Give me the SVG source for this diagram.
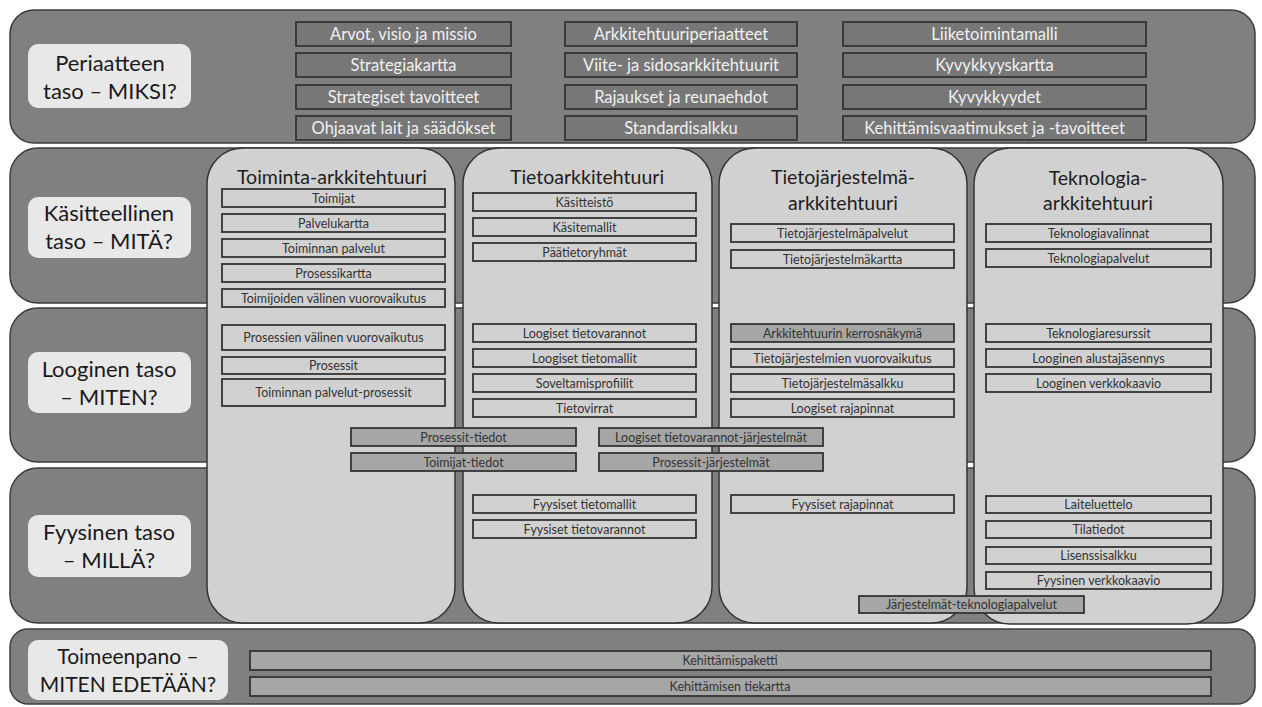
<svg xmlns="http://www.w3.org/2000/svg" width="1262" height="707" viewBox="0 0 1262 707">
  <style>
    .band { fill: #808080; stroke: #3c3c3c; stroke-width: 1.5; }
    .lvl { fill: #e8e8e8; }
    .lvlt { font-family: Lato, "Open Sans", sans-serif; font-size: 22px; fill: #1a1a1a; text-anchor: middle; }
    .pbox { fill: #777777; stroke: #333333; stroke-width: 1.8; }
    .pt { font-family: Lato, "Open Sans", sans-serif; font-size: 16.5px; fill: #f0f0f0; text-anchor: middle; }
    .col { fill: #d1d1d1; stroke: #333333; stroke-width: 1.5; }
    .colt { font-family: Lato, "Open Sans", sans-serif; font-size: 19.5px; fill: #1e1e1e; text-anchor: middle; }
    .cbox { fill: #d1d1d1; stroke: #333333; stroke-width: 1.8; }
    .dbox { fill: #a6a6a6; stroke: #333333; stroke-width: 1.8; }
    .ct { font-family: Lato, "Open Sans", sans-serif; font-size: 12.5px; fill: #333333; text-anchor: middle; }
  </style>

  <!-- horizontal levels -->
  <g id="bands">
    <rect class="band" x="10" y="10" width="1245" height="133" rx="24"/>
    <rect class="band" x="10" y="148" width="1245" height="155" rx="28"/>
    <rect class="band" x="10" y="308" width="1245" height="154" rx="28"/>
    <rect class="band" x="10" y="468" width="1245" height="155" rx="28"/>
    <rect class="band" x="10" y="629" width="1245" height="75" rx="18"/>
  </g>

  <!-- level labels -->
  <g id="level-miksi">
    <rect class="lvl" x="28" y="44" width="163" height="64" rx="10"/>
    <text class="lvlt" x="110" y="71">Periaatteen</text>
    <text class="lvlt" x="110" y="99">taso – MIKSI?</text>
  </g>
  <g id="level-mita">
    <rect class="lvl" x="28" y="197" width="163" height="61" rx="10"/>
    <text class="lvlt" x="109" y="221">Käsitteellinen</text>
    <text class="lvlt" x="109" y="249">taso – MITÄ?</text>
  </g>
  <g id="level-miten">
    <rect class="lvl" x="28" y="352" width="163" height="61" rx="10"/>
    <text class="lvlt" x="109" y="377">Looginen taso</text>
    <text class="lvlt" x="109" y="405">– MITEN?</text>
  </g>
  <g id="level-milla">
    <rect class="lvl" x="28" y="515" width="163" height="62" rx="10"/>
    <text class="lvlt" x="109" y="540">Fyysinen taso</text>
    <text class="lvlt" x="109" y="568">– MILLÄ?</text>
  </g>
  <g id="level-toimeenpano">
    <rect class="lvl" x="28" y="640" width="200" height="60" rx="10"/>
    <text class="lvlt" x="128" y="664" style="font-size:21px">Toimeenpano –</text>
    <text class="lvlt" x="128" y="692" style="font-size:21px">MITEN EDETÄÄN?</text>
  </g>

  <!-- principle level items -->
  <g id="principles">
    <rect class="pbox" x="296" y="22" width="215" height="24"/>
    <text class="pt" x="403.5" y="40">Arvot, visio ja missio</text>
    <rect class="pbox" x="296" y="53" width="215" height="24"/>
    <text class="pt" x="403.5" y="71">Strategiakartta</text>
    <rect class="pbox" x="296" y="85" width="215" height="24"/>
    <text class="pt" x="403.5" y="103">Strategiset tavoitteet</text>
    <rect class="pbox" x="296" y="116" width="215" height="24"/>
    <text class="pt" x="403.5" y="134">Ohjaavat lait ja säädökset</text>

    <rect class="pbox" x="565" y="22" width="232" height="24"/>
    <text class="pt" x="681" y="40">Arkkitehtuuriperiaatteet</text>
    <rect class="pbox" x="565" y="53" width="232" height="24"/>
    <text class="pt" x="681" y="71">Viite- ja sidosarkkitehtuurit</text>
    <rect class="pbox" x="565" y="85" width="232" height="24"/>
    <text class="pt" x="681" y="103">Rajaukset ja reunaehdot</text>
    <rect class="pbox" x="565" y="116" width="232" height="24"/>
    <text class="pt" x="681" y="134">Standardisalkku</text>

    <rect class="pbox" x="843" y="22" width="303" height="24"/>
    <text class="pt" x="994.5" y="40">Liiketoimintamalli</text>
    <rect class="pbox" x="843" y="53" width="303" height="24"/>
    <text class="pt" x="994.5" y="71">Kyvykkyyskartta</text>
    <rect class="pbox" x="843" y="85" width="303" height="24"/>
    <text class="pt" x="994.5" y="103">Kyvykkyydet</text>
    <rect class="pbox" x="843" y="116" width="303" height="24"/>
    <text class="pt" x="994.5" y="134">Kehittämisvaatimukset  ja -tavoitteet</text>
  </g>

  <!-- architecture columns -->
  <g id="toiminta-arkkitehtuuri">
    <rect class="col" x="207" y="148" width="248" height="475" rx="36"/>
    <text class="colt" x="332" y="184">Toiminta-arkkitehtuuri</text>
    <rect class="cbox" x="222" y="189" width="223" height="18"/><text class="ct" x="333.5" y="202.5">Toimijat</text>
    <rect class="cbox" x="222" y="214" width="223" height="18"/><text class="ct" x="333.5" y="227.5">Palvelukartta</text>
    <rect class="cbox" x="222" y="239" width="223" height="18"/><text class="ct" x="333.5" y="252.5">Toiminnan palvelut</text>
    <rect class="cbox" x="222" y="264" width="223" height="18"/><text class="ct" x="333.5" y="277.5">Prosessikartta</text>
    <rect class="cbox" x="222" y="289" width="223" height="18"/><text class="ct" x="333.5" y="302.5">Toimijoiden välinen vuorovaikutus</text>
    <rect class="cbox" x="222" y="325" width="223" height="25"/><text class="ct" x="333.5" y="342">Prosessien välinen vuorovaikutus</text>
    <rect class="cbox" x="222" y="357" width="223" height="17"/><text class="ct" x="333.5" y="370">Prosessit</text>
    <rect class="cbox" x="222" y="379" width="223" height="27"/><text class="ct" x="333.5" y="397">Toiminnan palvelut-prosessit</text>
  </g>

  <g id="tietoarkkitehtuuri">
    <rect class="col" x="463" y="148" width="249" height="475" rx="36"/>
    <text class="colt" x="587" y="184">Tietoarkkitehtuuri</text>
    <rect class="cbox" x="473" y="193" width="223" height="18"/><text class="ct" x="584.5" y="206.5">Käsitteistö</text>
    <rect class="cbox" x="473" y="218" width="223" height="18"/><text class="ct" x="584.5" y="231.5">Käsitemallit</text>
    <rect class="cbox" x="473" y="243" width="223" height="18"/><text class="ct" x="584.5" y="256.5">Päätietoryhmät</text>
    <rect class="cbox" x="473" y="324" width="223" height="18"/><text class="ct" x="584.5" y="337.5">Loogiset tietovarannot</text>
    <rect class="cbox" x="473" y="349" width="223" height="18"/><text class="ct" x="584.5" y="362.5">Loogiset tietomallit</text>
    <rect class="cbox" x="473" y="374" width="223" height="18"/><text class="ct" x="584.5" y="387.5">Soveltamisprofiilit</text>
    <rect class="cbox" x="473" y="399" width="223" height="18"/><text class="ct" x="584.5" y="412.5">Tietovirrat</text>
    <rect class="cbox" x="473" y="495" width="223" height="18"/><text class="ct" x="584.5" y="508.5">Fyysiset tietomallit</text>
    <rect class="cbox" x="473" y="520" width="223" height="18"/><text class="ct" x="584.5" y="533.5">Fyysiset tietovarannot</text>
  </g>

  <g id="tietojarjestelma-arkkitehtuuri">
    <rect class="col" x="719" y="148" width="248" height="475" rx="36"/>
    <text class="colt" x="843" y="184">Tietojärjestelmä-</text>
    <text class="colt" x="843" y="210">arkkitehtuuri</text>
    <rect class="cbox" x="731" y="224" width="223" height="18"/><text class="ct" x="842.5" y="237.5">Tietojärjestelmäpalvelut</text>
    <rect class="cbox" x="731" y="250" width="223" height="18"/><text class="ct" x="842.5" y="263.5">Tietojärjestelmäkartta</text>
    <rect class="dbox" x="731" y="324" width="223" height="18"/><text class="ct" x="842.5" y="337.5">Arkkitehtuurin kerrosnäkymä</text>
    <rect class="cbox" x="731" y="349" width="223" height="18"/><text class="ct" x="842.5" y="362.5">Tietojärjestelmien vuorovaikutus</text>
    <rect class="cbox" x="731" y="374" width="223" height="18"/><text class="ct" x="842.5" y="387.5">Tietojärjestelmäsalkku</text>
    <rect class="cbox" x="731" y="399" width="223" height="18"/><text class="ct" x="842.5" y="412.5">Loogiset rajapinnat</text>
    <rect class="cbox" x="731" y="495" width="223" height="18"/><text class="ct" x="842.5" y="508.5">Fyysiset rajapinnat</text>
  </g>

  <g id="teknologia-arkkitehtuuri">
    <rect class="col" x="974" y="148" width="249" height="476" rx="36"/>
    <text class="colt" x="1098" y="185">Teknologia-</text>
    <text class="colt" x="1098" y="210">arkkitehtuuri</text>
    <rect class="cbox" x="986" y="224" width="225" height="18"/><text class="ct" x="1098.5" y="237.5">Teknologiavalinnat</text>
    <rect class="cbox" x="986" y="249" width="225" height="18"/><text class="ct" x="1098.5" y="262.5">Teknologiapalvelut</text>
    <rect class="cbox" x="986" y="324" width="225" height="18"/><text class="ct" x="1098.5" y="337.5">Teknologiaresurssit</text>
    <rect class="cbox" x="986" y="349" width="225" height="18"/><text class="ct" x="1098.5" y="362.5">Looginen alustajäsennys</text>
    <rect class="cbox" x="986" y="374" width="225" height="18"/><text class="ct" x="1098.5" y="387.5">Looginen verkkokaavio</text>
    <rect class="cbox" x="986" y="496" width="225" height="17"/><text class="ct" x="1098.5" y="509">Laiteluettelo</text>
    <rect class="cbox" x="986" y="521" width="225" height="17"/><text class="ct" x="1098.5" y="534">Tilatiedot</text>
    <rect class="cbox" x="986" y="547" width="225" height="17"/><text class="ct" x="1098.5" y="560">Lisenssisalkku</text>
    <rect class="cbox" x="986" y="572" width="225" height="17"/><text class="ct" x="1098.5" y="585">Fyysinen verkkokaavio</text>
  </g>

  <!-- artefacts spanning two columns -->
  <g id="prosessit-tiedot">
    <rect class="dbox" x="351" y="428" width="225" height="18"/><text class="ct" x="463.5" y="441.5">Prosessit-tiedot</text>
  </g>
  <g id="toimijat-tiedot">
    <rect class="dbox" x="351" y="453" width="225" height="18"/><text class="ct" x="463.5" y="466.5">Toimijat-tiedot</text>
  </g>
  <g id="tietovarannot-jarjestelmat">
    <rect class="dbox" x="599" y="428" width="224" height="18"/><text class="ct" x="711" y="441.5">Loogiset tietovarannot-järjestelmät</text>
  </g>
  <g id="prosessit-jarjestelmat">
    <rect class="dbox" x="599" y="453" width="224" height="18"/><text class="ct" x="711" y="466.5">Prosessit-järjestelmät</text>
  </g>
  <g id="jarjestelmat-teknologiapalvelut">
    <rect class="dbox" x="859" y="596" width="225" height="17"/><text class="ct" x="971.5" y="609">Järjestelmät-teknologiapalvelut</text>
  </g>

  <!-- implementation level -->
  <g id="kehittamispaketti">
    <rect class="dbox" x="250" y="651" width="961" height="19"/><text class="ct" x="730" y="665">Kehittämispaketti</text>
  </g>
  <g id="kehittamisen-tiekartta">
    <rect class="dbox" x="250" y="677" width="961" height="19"/><text class="ct" x="730" y="691">Kehittämisen tiekartta</text>
  </g>
</svg>
